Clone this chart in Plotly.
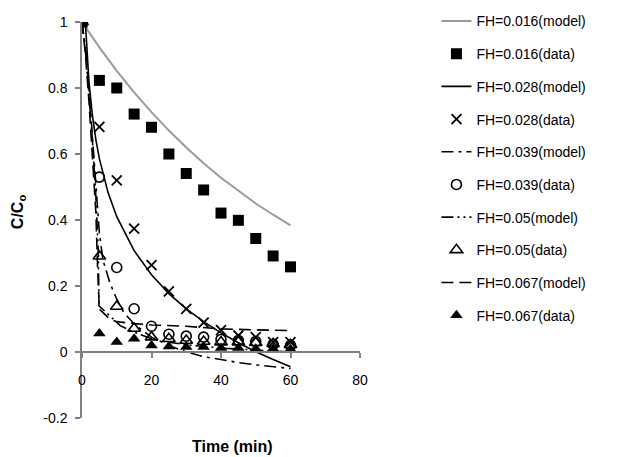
import plotly.graph_objects as go

# ---------------- data ----------------
t_data = [0, 5, 10, 15, 20, 25, 30, 35, 40, 45, 50, 55, 60]
fh016_data = [1, 0.823, 0.80, 0.721, 0.681, 0.600, 0.541, 0.491, 0.421, 0.399, 0.344, 0.291, 0.258]
fh028_data = [1, 0.682, 0.52, 0.374, 0.263, 0.184, 0.131, 0.089, 0.066, 0.05, 0.045, 0.03, 0.03]
fh039_data = [1, 0.53, 0.256, 0.131, 0.078, 0.054, 0.048, 0.045, 0.038, 0.035, 0.032, 0.023, 0.02]
fh05_data = [1, 0.29, 0.138, 0.071, 0.045, 0.04, 0.035, 0.032, 0.03, 0.03, 0.028, 0.025, 0.022]
fh067_data = [1, 0.056, 0.03, 0.04, 0.02, 0.017, 0.015, 0.015, 0.012, 0.012, 0.01, 0.01, 0.008]

t_m016 = [0, 5, 10, 15, 20, 25, 30, 35, 40, 45, 50, 55, 60]
fh016_model = [1, 0.923, 0.852, 0.787, 0.727, 0.671, 0.620, 0.572, 0.528, 0.488, 0.450, 0.416, 0.384]

t_m028 = [0, 1, 2, 3, 4, 5, 7.5, 10, 15, 20, 25, 30, 35, 40, 45, 50, 55, 60]
fh028_model = [1, 0.995, 0.819, 0.716, 0.643, 0.586, 0.483, 0.41, 0.307, 0.234, 0.177,
               0.131, 0.092, 0.058, 0.028, 0.001, -0.023, -0.045]

t_m039 = [0, 1, 2, 3, 4, 5, 6, 8, 10, 12, 15, 20, 25, 30, 35, 40, 45, 50, 55, 60]
fh039_model = [1, 0.92, 0.8, 0.66, 0.5, 0.36, 0.28, 0.21, 0.16, 0.12, 0.085, 0.045, 0.02,
               0.0, -0.014, -0.024, -0.032, -0.039, -0.045, -0.05]

t_m05 = [0, 1, 2, 3, 4, 4.7, 4.9, 8, 11, 15, 20, 25, 30, 40, 50, 60]
fh05_model = [1, 0.91, 0.78, 0.64, 0.47, 0.3, 0.14, 0.11, 0.08, 0.06, 0.04, 0.03, 0.022,
              0.012, 0.005, 0.0]

t_m067 = [0, 1, 2, 3, 4, 4.5, 5, 8, 10, 15, 20, 30, 40, 50, 60]
fh067_model = [1, 0.9, 0.76, 0.6, 0.42, 0.25, 0.13, 0.1, 0.092, 0.086, 0.082, 0.078, 0.07,
               0.067, 0.065]

x_ticks = [0, 20, 40, 60, 80]
y_ticks = [-0.2, 0, 0.2, 0.4, 0.6, 0.8, 1]
y_ticklabels = ["-0.2", "0", "0.2", "0.4", "0.6", "0.8", "1"]

FONT = "Liberation Sans, Arial, sans-serif"

fig = go.Figure()

def add_line(name, x, y, color, width, dash):
    fig.add_trace(go.Scatter(x=x, y=y, mode="lines", name=name, legendgroup=name,
                             line=dict(color=color, width=width, dash=dash)))

def add_marker(name, x, y, symbol, size, lw=1.5):
    fig.add_trace(go.Scatter(x=x, y=y, mode="markers", name=name, legendgroup=name,
                             marker=dict(symbol=symbol, size=size, color="black",
                                         line=dict(color="black", width=lw))))

add_line("FH=0.016(model)", t_m016, fh016_model, "#9a9a9a", 2, "solid")
add_marker("FH=0.016(data)", t_data, fh016_data, "square", 11, 0)
add_line("FH=0.028(model)", t_m028, fh028_model, "black", 1.6, "solid")
add_marker("FH=0.028(data)", t_data, fh028_data, "x-thin", 10, 1.8)
add_line("FH=0.039(model)", t_m039, fh039_model, "black", 1.6, "12px,5px,3px,5px")
add_marker("FH=0.039(data)", t_data, fh039_data, "circle-open", 10, 1.6)
add_line("FH=0.05(model)", t_m05, fh05_model, "black", 1.6, "12px,4px,2px,4px,2px,4px")
add_marker("FH=0.05(data)", t_data, fh05_data, "triangle-up-open", 11, 1.6)
add_line("FH=0.067(model)", t_m067, fh067_model, "black", 1.6, "12px,6px")
add_marker("FH=0.067(data)", t_data, fh067_data, "triangle-up", 11, 0)

fig.update_layout(
    width=623, height=457,
    margin=dict(l=82, r=263, t=22, b=39, autoexpand=False),
    paper_bgcolor="white", plot_bgcolor="white",
    font=dict(family=FONT, size=14, color="black"),
    showlegend=True,
    legend=dict(x=1.275, xanchor="left", y=1.042, yanchor="top",
                traceorder="grouped", tracegroupgap=11.5, maxheight=440,
                font=dict(family=FONT, size=14, color="black"),
                bgcolor="rgba(0,0,0,0)", itemwidth=30),
    xaxis=dict(range=[0, 80], tickvals=x_ticks, anchor="free", position=1/6,
               showline=True, linecolor="#808080", linewidth=1.5,
               ticks="outside", ticklen=5, tickcolor="#808080", tickwidth=1.5,
               ticklabelstandoff=10, showgrid=False, zeroline=False,
               tickfont=dict(family=FONT, size=14)),
    yaxis=dict(range=[-0.2, 1], tickvals=y_ticks, ticktext=y_ticklabels,
               showline=True, linecolor="#808080", linewidth=1.5,
               ticks="outside", ticklen=5, tickcolor="#808080", tickwidth=1.5,
               ticklabelstandoff=5, showgrid=False, zeroline=False,
               tickfont=dict(family=FONT, size=14)),
    annotations=[
        dict(text="<b>Time (min)</b>", xref="paper", yref="paper", x=0.54, y=-0.073,
             xanchor="center", yanchor="middle", showarrow=False,
             font=dict(family=FONT, size=16)),
        dict(text="<b>C/C<sub>o</sub></b>", xref="paper", yref="paper", x=-0.23, y=0.52,
             xanchor="center", yanchor="middle", textangle=-90, showarrow=False,
             font=dict(family=FONT, size=16)),
    ],
)

fig.write_html("out.html", config={"displayModeBar": False},
               post_script="document.body.style.margin='0px';")
